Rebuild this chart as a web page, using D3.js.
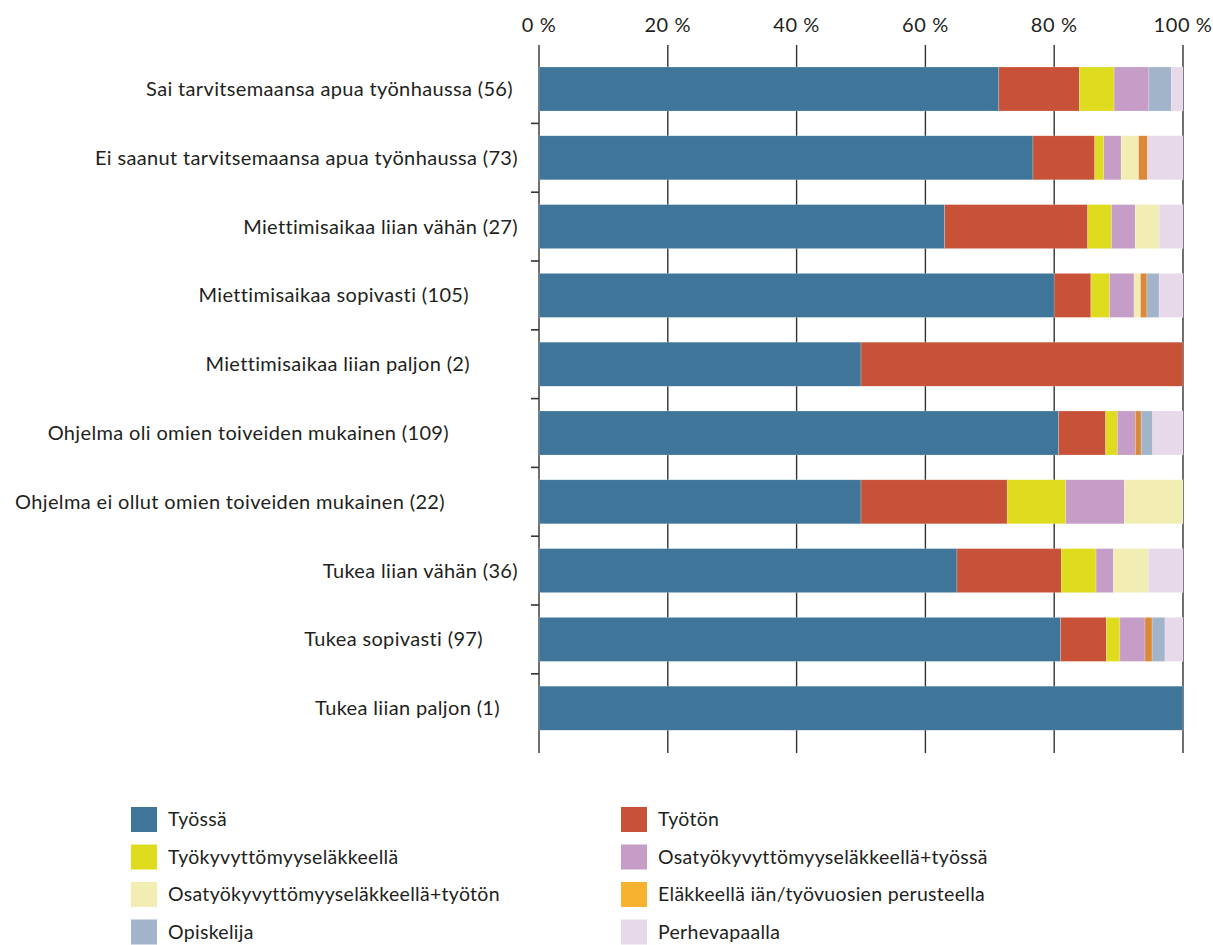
<!DOCTYPE html>
<html><head><meta charset="utf-8">
<script src="https://cdn.jsdelivr.net/npm/d3@7"></script>
<style>
body{margin:0;background:#fff;}
text{font-family:Lato, "Open Sans", sans-serif;fill:#231f20;}
</style></head>
<body><svg id="c" width="1213" height="945"></svg>
<script>
const categories = [
  "Sai tarvitsemaansa apua työnhaussa (56)",
  "Ei saanut tarvitsemaansa apua työnhaussa (73)",
  "Miettimisaikaa liian vähän (27)",
  "Miettimisaikaa sopivasti (105)",
  "Miettimisaikaa liian paljon (2)",
  "Ohjelma oli omien toiveiden mukainen (109)",
  "Ohjelma ei ollut omien toiveiden mukainen (22)",
  "Tukea liian vähän (36)",
  "Tukea sopivasti (97)",
  "Tukea liian paljon (1)"
];
const seriesNames = ["Työssä","Työtön","Työkyvyttömyyseläkkeellä","Osatyökyvyttömyyseläkkeellä+työssä",
  "Osatyökyvyttömyyseläkkeellä+työtön","Eläkkeellä iän/työvuosien perusteella","Opiskelija","Perhevapaalla"];
const tyossa      = [71.4, 76.7, 63.0, 80.0, 50.0, 80.7, 50.0, 64.9, 81.0, 100];
const tyoton      = [12.5,  9.6, 22.2,  5.7, 50.0,  7.3, 22.7, 16.2,  7.1, 0];
const tyokyv      = [ 5.4,  1.4,  3.7,  2.9,  0,    1.8,  9.1,  5.4,  2.1, 0];
const osaTyossa   = [ 5.4,  2.7,  3.7,  3.8,  0,    2.8,  9.1,  2.7,  3.9, 0];
const osaTyoton   = [ 0,    2.7,  3.7,  1.0,  0,    0,    9.1,  5.4,  0,   0];
const elakkeella  = [ 0,    1.4,  0,    1.0,  0,    0.9,  0,    0,    1.1, 0];
const opiskelija  = [ 3.5,  0,    0,    1.9,  0,    1.8,  0,    0,    2.0, 0];
const perhevapaa  = [ 1.8,  5.5,  3.7,  3.7,  0,    4.7,  0,    5.4,  2.8, 0];
const tickValues = [0,20,40,60,80,100];
const tickLabels = ["0 %","20 %","40 %","60 %","80 %","100 %"];

const seriesValues = [tyossa,tyoton,tyokyv,osaTyossa,osaTyoton,elakkeella,opiskelija,perhevapaa];
const colors = ["#3f7598","#c75237","#dfdb1f","#c69dc6","#f2eeb3","#dc883a","#a2b4ca","#e8d9ea"];
const legendColors = ["#3f7598","#c75237","#dfdb1f","#c69dc6","#f2eeb3","#f7b330","#a2b4ca","#e8d9ea"];
// layout: right edge of each category label
const labelRight = [513,518,518,469,470,449,445,518,483,500];

const svg = d3.select("#c");
const x = d3.scaleLinear().domain([0,100]).range([539,1183]);
const y = d3.scaleBand().domain(categories).range([54.6,742.6]).paddingInner(0.36).paddingOuter(0.18);

// gridlines
svg.append("g").selectAll("line").data(tickValues).join("line")
  .attr("x1",d=>x(d)).attr("x2",d=>x(d)).attr("y1",45).attr("y2",753)
  .attr("stroke","#333").attr("stroke-width",1.4);
// tick labels
svg.append("g").selectAll("text").data(tickValues).join("text")
  .attr("x",d=>x(d)).attr("y",32).attr("text-anchor","middle")
  .attr("font-size",20).attr("letter-spacing",0.6).text((d,i)=>tickLabels[i]);
// left ticks at category boundaries
const step = y.step();
svg.append("g").selectAll("line").data(categories.slice(1)).join("line")
  .attr("x1",531).attr("x2",539)
  .attr("y1",d=>y(d)-y.paddingInner()*step/2).attr("y2",d=>y(d)-y.paddingInner()*step/2)
  .attr("stroke","#333").attr("stroke-width",1.6);

// stacked data
const rows = categories.map((c,i)=>{const r={cat:c}; seriesNames.forEach((s,j)=>r[s]=seriesValues[j][i]); return r;});
const stack = d3.stack().keys(seriesNames)(rows);
svg.append("g").selectAll("g").data(stack).join("g")
  .attr("fill",(d,i)=>colors[i])
  .selectAll("rect").data(d=>d.filter(p=>p[1]-p[0]>0)).join("rect")
  .attr("x",d=>x(d[0])).attr("width",d=>x(d[1])-x(d[0]))
  .attr("y",d=>y(d.data.cat)).attr("height",y.bandwidth())
  .attr("stroke","#ffffff").attr("stroke-opacity",0.35).attr("stroke-width",0.6);

// category labels
svg.append("g").selectAll("text").data(categories).join("text")
  .attr("x",(d,i)=>labelRight[i]).attr("y",d=>y(d)+y.bandwidth()/2)
  .attr("dy","0.35em").attr("text-anchor","end").attr("font-size",20).attr("letter-spacing",0.35).text(d=>d);

// legend
const lg = svg.append("g");
seriesNames.forEach((s,i)=>{
  const col = i%2, row = Math.floor(i/2);
  const gx = col===0 ? 131 : 621, gy = 807 + row*37.5;
  lg.append("rect").attr("x",gx).attr("y",gy).attr("width",26).attr("height",25).attr("fill",legendColors[i]);
  lg.append("text").attr("x",gx+37).attr("y",gy+12.5).attr("dy","0.35em").attr("font-size",19.5).attr("letter-spacing",0.3).text(s);
});
</script></body></html>
